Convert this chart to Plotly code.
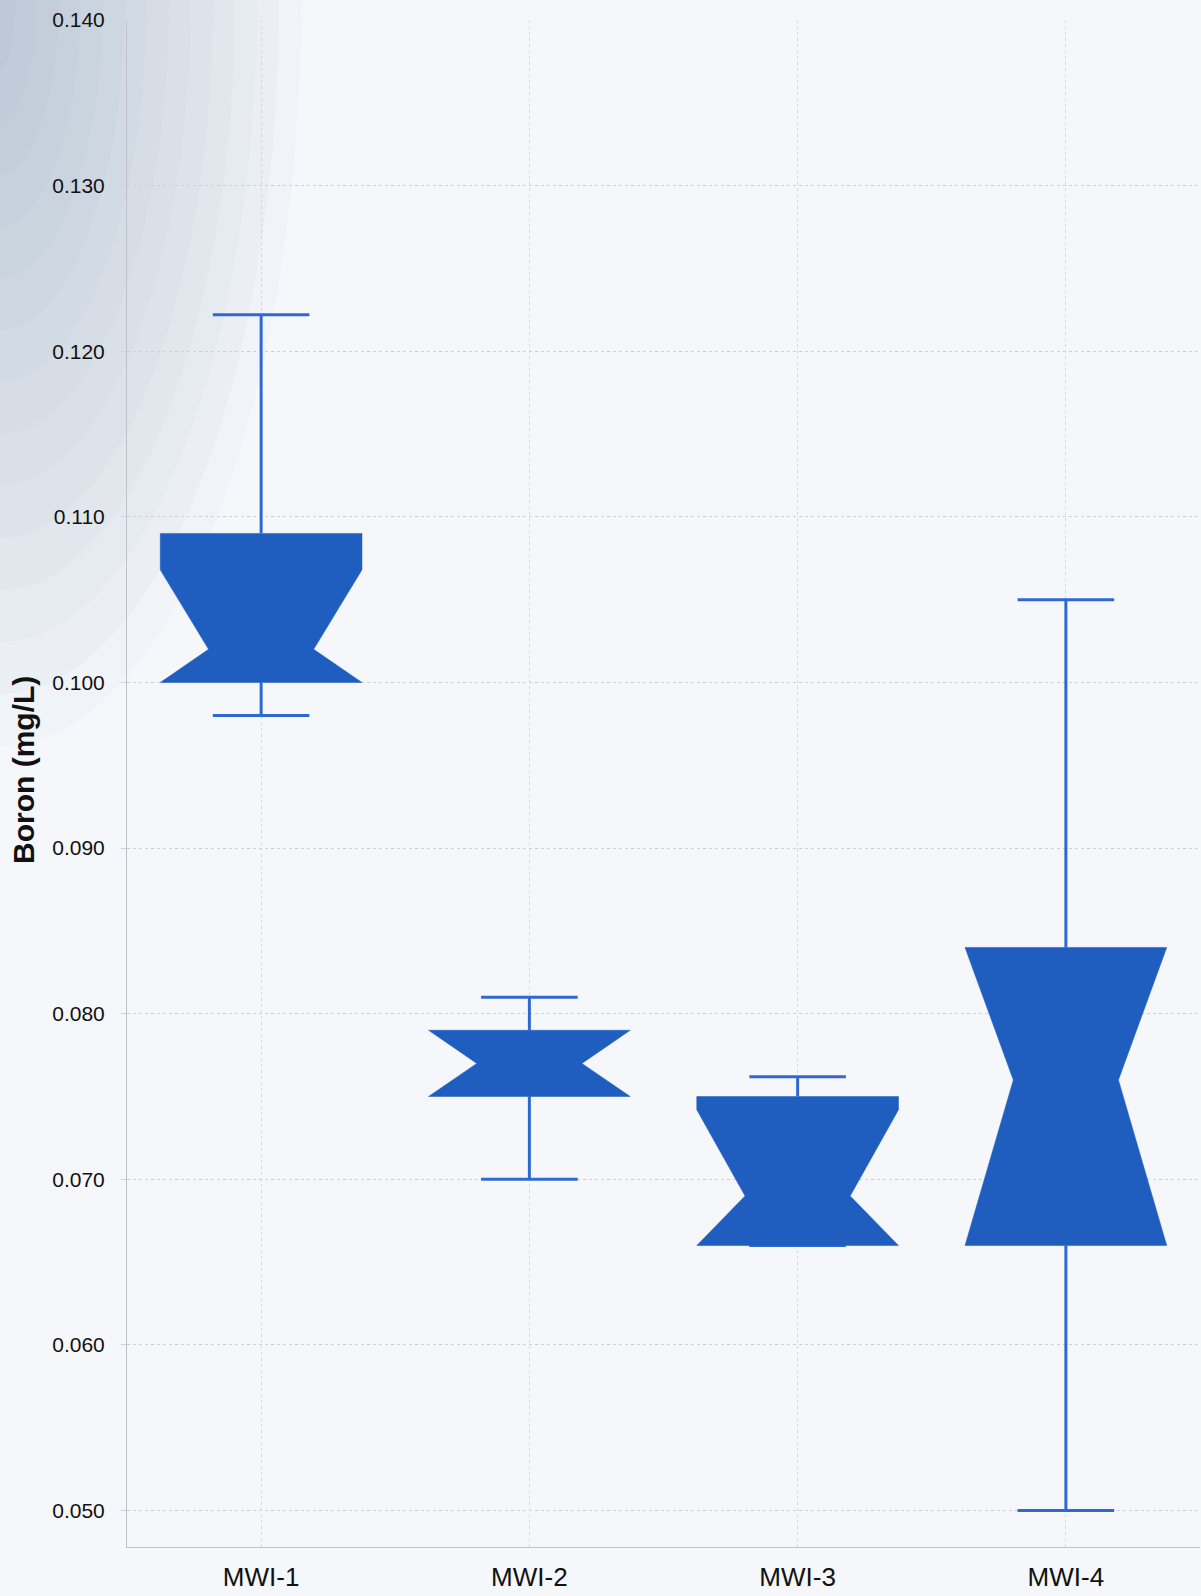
import plotly.graph_objects as go

categories = ["MWI-1", "MWI-2", "MWI-3", "MWI-4"]
lower_whisker = [0.098, 0.070, 0.066, 0.050]
q1 = [0.100, 0.075, 0.066, 0.066]
median = [0.102, 0.077, 0.069, 0.076]
q3 = [0.109, 0.079, 0.075, 0.084]
upper_whisker = [0.1222, 0.081, 0.0762, 0.105]
notch_half = [0.0048, 0.002, 0.0052, 0.011]

y_ticks = [0.050, 0.060, 0.070, 0.080, 0.090, 0.100, 0.110, 0.120, 0.130, 0.140]
y_title = "Boron (mg/L)"

BOX_FILL = "#1F5EBE"
WHISKER = "#3068D2"
BOX_HALF = 0.376
NOTCH_HALF_W = 0.196
CAP_HALF = 0.18

W, H = 1201, 1596
ML, MR, MT, MB = 127, 1, 20, 49
PW, PH = W - ML - MR, H - MT - MB

fig = go.Figure()

for i, name in enumerate(categories):
    lo = max(q1[i], median[i] - notch_half[i])
    hi = min(q3[i], median[i] + notch_half[i])
    xs = [i - BOX_HALF, i - BOX_HALF, i - NOTCH_HALF_W, i - BOX_HALF, i - BOX_HALF,
          i + BOX_HALF, i + BOX_HALF, i + NOTCH_HALF_W, i + BOX_HALF, i + BOX_HALF, i - BOX_HALF]
    ys = [q1[i], lo, median[i], hi, q3[i], q3[i], hi, median[i], lo, q1[i], q1[i]]
    wx = [i, i, None, i - CAP_HALF, i + CAP_HALF, None, i, i, None, i - CAP_HALF, i + CAP_HALF]
    wy = [q3[i], upper_whisker[i], None, upper_whisker[i], upper_whisker[i], None,
          q1[i], lower_whisker[i], None, lower_whisker[i], lower_whisker[i]]
    fig.add_trace(go.Scatter(x=wx, y=wy, mode="lines", line=dict(color=WHISKER, width=3),
                             showlegend=False, hoverinfo="skip"))
    fig.add_trace(go.Scatter(x=xs, y=ys, mode="lines", fill="toself", fillcolor=BOX_FILL,
                             line=dict(color=BOX_FILL, width=0.5), name=name, showlegend=False))

# background gradient: bluish glow along the top-left edge
shapes = []
n_layers = 14
for k in range(n_layers):
    rx = 15 + k * 22
    ry = 70 + k * 52
    shapes.append(dict(type="circle", xref="paper", yref="paper", layer="below",
                       x0=(-ML - rx) / PW, x1=(-ML + rx) / PW,
                       y0=(PH + MT - ry) / PH, y1=(PH + MT + ry) / PH,
                       fillcolor="rgba(120,150,190,0.04)", line=dict(width=0)))

fig.update_layout(
    width=W, height=H,
    margin=dict(l=ML, r=MR, t=MT, b=MB),
    paper_bgcolor="#F5F7FA",
    plot_bgcolor="rgba(0,0,0,0)",
    font=dict(family="Liberation Sans, Arial, sans-serif", color="#111111"),
    shapes=shapes,
    xaxis=dict(
        range=[-0.5, 3.5], tickmode="array", tickvals=list(range(len(categories))),
        ticktext=categories, tickfont=dict(size=26, color="#111111"),
        showgrid=True, gridcolor="#D6DADF", griddash="dot", gridwidth=1,
        showline=True, linecolor="#BFC3C8", linewidth=1, ticks="", zeroline=False,
        ticklabelstandoff=7,
    ),
    yaxis=dict(
        range=[0.0478, 0.1400], tickmode="array", tickvals=y_ticks,
        ticktext=[f"{v:.3f}" for v in y_ticks],
        tickfont=dict(size=21, color="#111111"),
        showgrid=True, gridcolor="#CDD1D7", griddash="dot", gridwidth=1,
        showline=True, linecolor="#BFC3C8", linewidth=1, zeroline=False,
        ticks="outside", ticklen=5, tickcolor="#D0D4DA",
        ticklabelstandoff=12,
    ),
    annotations=[dict(
        text="<b>" + y_title + "</b>", xref="paper", yref="paper",
        x=(23 - ML) / PW, y=(MT + PH - 770) / PH, xanchor="center", yanchor="middle",
        textangle=-90, showarrow=False, font=dict(size=30, color="#111111"),
    )],
)

fig.write_html("out.html")
